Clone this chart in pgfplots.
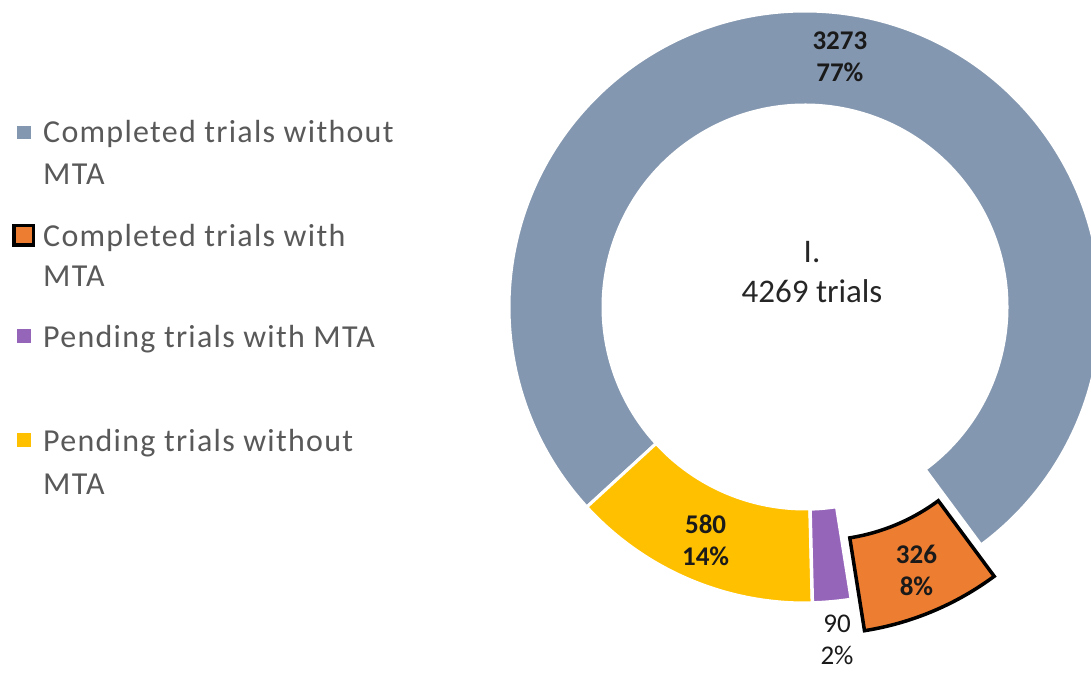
\documentclass[border=0pt]{standalone}
\usepackage{pgfplots}
\pgfplotsset{compat=1.18}
\usepackage{fontspec}
\setmainfont{Carlito}
\newfontfamily\legfont[LetterSpace=4]{Carlito}
\definecolor{cGray}{HTML}{8497B0}
\definecolor{cOrange}{HTML}{ED7D31}
\definecolor{cPurple}{HTML}{9565BA}
\definecolor{cYellow}{HTML}{FFC000}
\definecolor{legtext}{HTML}{595959}
\definecolor{lbl}{HTML}{1A1A1A}
\definecolor{ctext}{HTML}{262626}

% ---- data ----
\def\vA{3273} % Completed trials without MTA
\def\vB{326}  % Completed trials with MTA
\def\vC{90}   % Pending trials with MTA
\def\vD{580}  % Pending trials without MTA
\pgfmathtruncatemacro{\total}{\vA+\vB+\vC+\vD}
\def\cx{805}\def\cy{366}\def\Ro{296}\def\Ri{202}\def\Rm{249}
\pgfmathsetmacro{\aA}{222.5}
\pgfmathsetmacro{\aB}{\aA-360*(\vA/\total)}
\pgfmathsetmacro{\aC}{\aB-360*(\vB/\total)}
\pgfmathsetmacro{\aD}{\aC-360*(\vC/\total)}
\pgfmathsetmacro{\aE}{\aD-360*(\vD/\total)}
\pgfmathsetmacro{\mA}{(\aA+\aB)/2}
\pgfmathsetmacro{\mB}{(\aB+\aC)/2}
\pgfmathsetmacro{\mC}{(\aC+\aD)/2}
\pgfmathsetmacro{\mD}{(\aD+\aE)/2}
\pgfmathsetmacro{\oxB}{\cx+34*cos(\mB)}
\pgfmathsetmacro{\oyB}{\cy+34*sin(\mB)}
\pgfmathtruncatemacro{\pA}{round(100*(\vA/\total))}
\pgfmathtruncatemacro{\pB}{round(100*(\vB/\total))}
\pgfmathtruncatemacro{\pC}{round(100*(\vC/\total))}
\pgfmathtruncatemacro{\pD}{round(100*(\vD/\total))}

% ring segment: #1,#2 centre, #3,#4 angles, #5 style
\newcommand\ring[5]{%
  \path[#5] ({#1+\Ro*cos(#3)},{#2+\Ro*sin(#3)})
    arc[start angle=#3, end angle=#4, radius=\Ro bp]
    -- ({#1+\Ri*cos(#4)},{#2+\Ri*sin(#4)})
    arc[start angle=#4, end angle=#3, radius=\Ri bp] -- cycle;}

\newcommand\legfs{\legfont\fontsize{32bp}{42bp}\selectfont}
\newcommand\lblfs{\fontsize{27bp}{32bp}\selectfont}

\begin{document}
\begin{tikzpicture}
\begin{axis}[width=1091bp, height=673bp, scale only axis,
  xmin=0, xmax=1091, ymin=0, ymax=673, hide axis, clip=true]
  % slices
  \ring{\cx}{\cy}{\aA}{\aB}{fill=cGray, draw=white, line width=3bp}
  \ring{\cx}{\cy}{\aD}{\aE}{fill=cYellow, draw=white, line width=3bp}
  \ring{\cx}{\cy}{\aC}{\aD}{fill=cPurple, draw=white, line width=3.5bp}
  \ring{\oxB}{\oyB}{\aB}{\aC}{fill=cOrange, draw=black, line width=3.5bp, line join=miter}
  % data labels
  \node[lbl, align=center, font=\lblfs\bfseries] at ({\cx+\Rm*cos(\mA)+11},{\cy+\Rm*sin(\mA)+2}) {\vA\\\pA\%};
  \node[lbl, align=center, font=\lblfs\bfseries] at ({\oxB+\Rm*cos(\mB)+2},{\oyB+\Rm*sin(\mB)-2}) {\vB\\\pB\%};
  \node[lbl, align=center, font=\lblfs\bfseries] at ({\cx+\Rm*cos(\mD)-2},{\cy+\Rm*sin(\mD)-4}) {\vD\\\pD\%};
  \node[lbl, align=center, font=\lblfs] at (837,33) {\vC\\\pC\%};
  % centre text
  \node[ctext, align=center, font=\fontsize{33bp}{40bp}\selectfont] at (812,401) {I.\\\total\ trials};
  % legend
  \fill[cGray] (17,534) rectangle (31,547);
  \path[fill=cOrange, draw=black, line width=3.5bp] (13.75,427.75) rectangle (33.25,447.25);
  \fill[cPurple] (17,330) rectangle (31,344);
  \fill[cYellow] (17,226) rectangle (31,240);
  \node[legtext, anchor=base west, inner sep=0pt, font=\legfs] at (43,530) {Completed trials without};
  \node[legtext, anchor=base west, inner sep=0pt, font=\legfs] at (43,488) {MTA};
  \node[legtext, anchor=base west, inner sep=0pt, font=\legfs] at (43,426) {Completed trials with};
  \node[legtext, anchor=base west, inner sep=0pt, font=\legfs] at (43,386) {MTA};
  \node[legtext, anchor=base west, inner sep=0pt, font=\legfs] at (43,325) {Pending trials with MTA};
  \node[legtext, anchor=base west, inner sep=0pt, font=\legfs] at (43,221) {Pending trials without};
  \node[legtext, anchor=base west, inner sep=0pt, font=\legfs] at (43,178) {MTA};
\end{axis}
\pgfresetboundingbox
\path (current axis.south west) rectangle (current axis.north east);
\end{tikzpicture}
\end{document}
